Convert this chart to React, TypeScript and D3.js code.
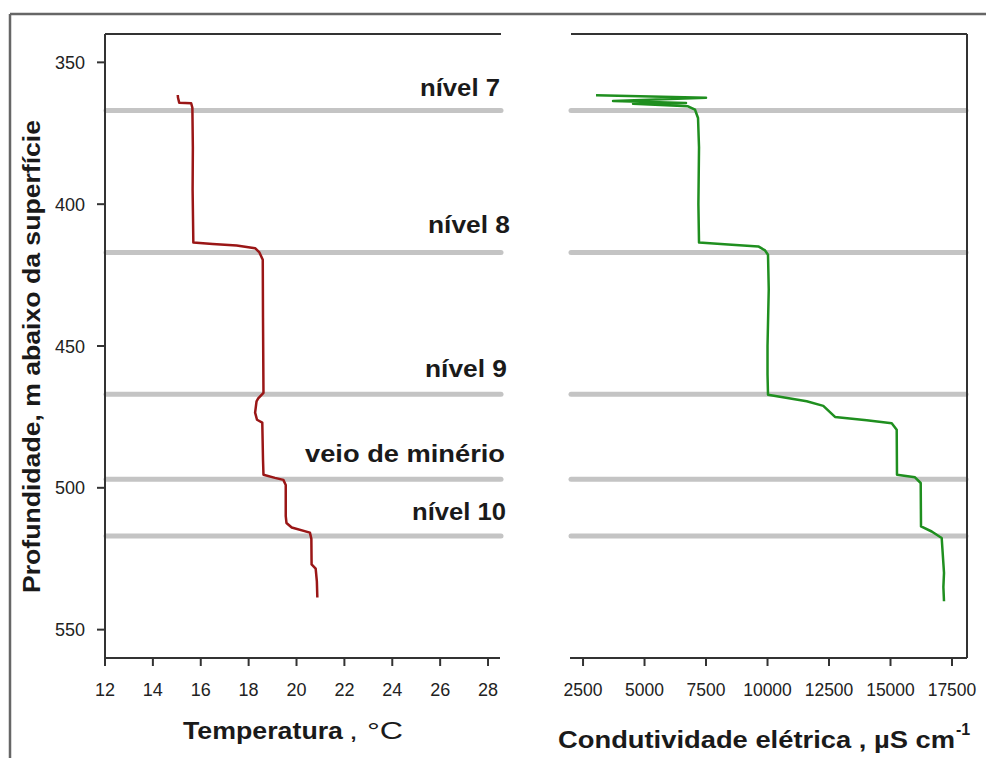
import React from "react";
import * as d3 from "d3";

// ---- data ----
const tempDepth = [361.5, 362.5, 364.2, 364.4, 366, 380, 395, 413.5, 414.0, 414.6, 415.5, 417, 419.6, 440, 466.5, 468.5, 469.5, 473.5, 476, 477, 490, 495.4, 496.5, 497.2, 499, 510, 512.4, 514, 515.8, 518, 527, 528.5, 533, 538.7];
const tempValue = [15.04, 15.05, 15.1, 15.6, 15.65, 15.67, 15.66, 15.69, 16.5, 17.5, 18.27, 18.45, 18.59, 18.6, 18.62, 18.4, 18.33, 18.27, 18.35, 18.57, 18.6, 18.62, 19.1, 19.45, 19.55, 19.55, 19.58, 19.8, 20.56, 20.62, 20.63, 20.8, 20.85, 20.87];

const condDepth = [361.6, 362.5, 363.6, 364.3, 364.6, 365.5, 366.7, 369.6, 380, 400, 413.5, 414.2, 414.9, 416.3, 417.8, 430, 450, 460, 467.2, 469.5, 471.1, 475.0, 476.2, 477.2, 479.5, 495.4, 496.3, 498.3, 513.6, 515.4, 517.7, 530, 535, 540];
const condValue = [3028, 7500, 3720, 6687, 4533, 6768, 7053, 7175, 7215, 7190, 7215, 8400, 9626, 9900, 10020, 10050, 10000, 10000, 10020, 11593, 12268, 12744, 14033, 15049, 15252, 15264, 15996, 16228, 16240, 16675, 17081, 17175, 17150, 17175];

const levelDepths = [367, 417, 467, 497, 517];
const levelLabels = ["nível 7", "nível 8", "nível 9", "veio de minério", "nível 10"];
const levelLabelDepths = [361.7, 410, 461, 491, 511.5];
const levelLabelRight = [500, 510, 507, 505, 506];
const levelLabelWidths = [80, 82, 82, 200, 94];

const depthTicks = [350, 400, 450, 500, 550];
const tempTicks = [12, 14, 16, 18, 20, 22, 24, 26, 28];
const condTicks = [2500, 5000, 7500, 10000, 12500, 15000, 17500];

const FONT = '"Liberation Sans", Arial, sans-serif';

export default function App() {
  const y = d3.scaleLinear().domain([340, 560]).range([34, 658]);
  const xT = d3.scaleLinear().domain([12, 28.5]).range([105, 500]);
  const xC = d3.scaleLinear().domain([1970, 18110]).range([570, 967]);

  const tempLine = d3
    .line<number>()
    .x((_, i) => xT(tempValue[i]))
    .y((d) => y(d));
  const condLine = d3
    .line<number>()
    .x((_, i) => xC(condValue[i]))
    .y((d) => y(d));

  const axisColor = "#333";
  const tickColor = "#222";

  return (
    <svg
      width={986}
      height={758}
      style={{ position: "absolute", left: 0, top: 0, background: "#fff" }}
      fontFamily={FONT}
    >
      <rect x={0} y={0} width={986} height={758} fill="#fff" />
      {/* outer frame */}
      <line x1={10} y1={14} x2={986} y2={14} stroke="#666" strokeWidth={2.5} />
      <line x1={10} y1={14} x2={10} y2={758} stroke="#666" strokeWidth={2.5} />

      {/* level lines */}
      {levelDepths.map((d, i) => (
        <g key={"lv" + i}>
          <line x1={106} x2={501} y1={y(d)} y2={y(d)} stroke="#c4c4c4" strokeWidth={5} strokeLinecap="round" />
          <line x1={571} x2={966} y1={y(d)} y2={y(d)} stroke="#c4c4c4" strokeWidth={5} strokeLinecap="round" />
        </g>
      ))}

      {/* left panel frame */}
      <line x1={105} y1={34} x2={501} y2={34} stroke={axisColor} strokeWidth={2} />
      <line x1={105} y1={34} x2={105} y2={658} stroke={axisColor} strokeWidth={2} />
      <line x1={105} y1={658} x2={500} y2={658} stroke={axisColor} strokeWidth={2} />
      {/* right panel frame */}
      <line x1={571} y1={34} x2={967} y2={34} stroke={axisColor} strokeWidth={2} />
      <line x1={967} y1={34} x2={967} y2={658} stroke={axisColor} strokeWidth={2} />
      <line x1={570} y1={658} x2={967} y2={658} stroke={axisColor} strokeWidth={2} />

      {/* y ticks */}
      {depthTicks.map((t) => (
        <g key={"yt" + t}>
          <line x1={97} x2={105} y1={y(t)} y2={y(t)} stroke={axisColor} strokeWidth={2} />
          <text x={85} y={y(t) + 6.5} textAnchor="end" fontSize={18} fill={tickColor}>
            {t}
          </text>
        </g>
      ))}

      {/* temp x ticks */}
      {tempTicks.map((t) => (
        <g key={"tt" + t}>
          <line x1={xT(t)} x2={xT(t)} y1={658} y2={666} stroke={axisColor} strokeWidth={2} />
          <text x={xT(t)} y={696} textAnchor="middle" fontSize={18} fill={tickColor}>
            {t}
          </text>
        </g>
      ))}

      {/* cond x ticks */}
      {condTicks.map((t) => (
        <g key={"ct" + t}>
          <line x1={xC(t)} x2={xC(t)} y1={658} y2={666} stroke={axisColor} strokeWidth={2} />
          <text x={xC(t)} y={696} textAnchor="middle" fontSize={17.5} fill={tickColor}>
            {t}
          </text>
        </g>
      ))}

      {/* data lines */}
      <path d={tempLine(tempDepth) || ""} fill="none" stroke="#9a1616" strokeWidth={2.5} strokeLinejoin="round" />
      <path d={condLine(condDepth) || ""} fill="none" stroke="#1f8f1f" strokeWidth={2.5} strokeLinejoin="round" />

      {/* level labels */}
      {levelLabels.map((l, i) => (
        <text
          key={"ll" + i}
          x={levelLabelRight[i] - levelLabelWidths[i]}
          y={y(levelLabelDepths[i])}
          fontSize={23}
          fontWeight="bold"
          fill="#1a1a1a"
          textLength={levelLabelWidths[i]}
          lengthAdjust="spacingAndGlyphs"
        >
          {l}
        </text>
      ))}

      {/* axis titles */}
      <text x={183} y={739} fontSize={24} fill="#1a1a1a">
        <tspan fontWeight="bold" textLength={160} lengthAdjust="spacingAndGlyphs">
          Temperatura
        </tspan>
        <tspan x={349} textLength={54} lengthAdjust="spacingAndGlyphs">, °C</tspan>
      </text>
      <text x={558} y={748} fontSize={24} fill="#1a1a1a" fontWeight="bold">
        <tspan textLength={397} lengthAdjust="spacingAndGlyphs">Condutividade elétrica , µS cm</tspan>
        <tspan x={956} y={735} fontSize={16}>-1</tspan>
      </text>
      <text
        transform="translate(40,356.5) rotate(-90)"
        textAnchor="middle"
        fontSize={23}
        fontWeight="bold"
        fill="#1a1a1a"
        textLength={473}
        lengthAdjust="spacingAndGlyphs"
      >
        Profundidade, m abaixo da superfície
      </text>
    </svg>
  );
}
